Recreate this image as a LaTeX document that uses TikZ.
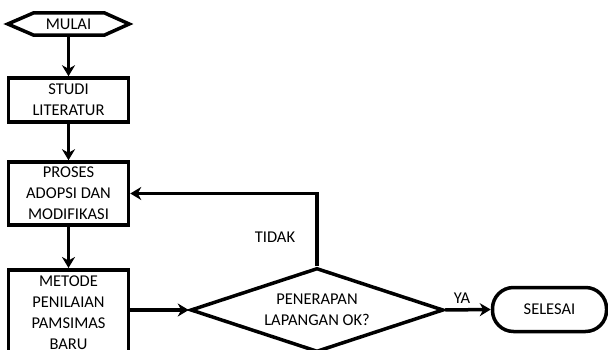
\documentclass[tikz,border=0pt]{standalone}
\usepackage{fontspec}
\setmainfont{Carlito}
\usetikzlibrary{arrows.meta,shapes.geometric,calc}
\begin{document}
\begin{tikzpicture}[x=1pt,y=-1pt,
  every node/.style={font=\fontsize{16.5}{21}\selectfont, inner sep=0pt, align=center},
  ln/.style={line width=3.5pt, line join=miter},
  arr/.style={ln, -{Stealth[length=11pt,width=13pt,inset=3.5pt]}},
  boxstep/.style={draw, line width=3.5pt, rectangle, minimum width=120pt},
  decis/.style={draw, line width=3.5pt, diamond, aspect=3, minimum width=253pt, minimum height=84pt, inner sep=0pt},
  term/.style={draw, line width=3.5pt, rectangle, rounded corners=21pt, minimum width=114pt, minimum height=44pt},
  lbl/.style={font=\fontsize{16.5}{21}\selectfont}
]
\useasboundingbox (0,0) rectangle (608,350);
\clip (0,0) rectangle (608,350);
\fill[white] (0,0) rectangle (608,350);

\node[minimum width=121pt, minimum height=22pt] (mulai) at (68.5,24) {MULAI};
\draw[ln] (mulai.west) -- ([xshift=26pt]mulai.north west) -- ([xshift=-25pt]mulai.north east)
  -- (mulai.east) -- ([xshift=-25pt]mulai.south east) -- ([xshift=26pt]mulai.south west) -- cycle;

\node[boxstep, minimum height=44pt] (studi) at (68.5,100) {STUDI\\LITERATUR};
\node[boxstep, minimum height=63pt] (proses) at (68.5,193.5) {PROSES\\ADOPSI DAN\\MODIFIKASI};
\node[boxstep, minimum height=86pt, anchor=north] (metode) at (68.5,268) {METODE\\PENILAIAN\\PAMSIMAS\\BARU};
\node[decis] (dia) at (317,310) {PENERAPAN\\LAPANGAN OK?};
\node[term] (sel) at (549.5,309.5) {SELESAI};

\draw[arr] (mulai.south) -- (studi.north);
\draw[arr] (studi.south) -- (proses.north);
\draw[arr] (proses.south) -- (metode.north);
\draw[arr] (metode.east |- dia.west) -- (dia.west);
\draw[arr] (dia.north) |- (proses.east);
\draw[arr] (dia.east) -- (sel.west);

\node[lbl] (tidak) at (275,237) {TIDAK};
\node[lbl] (ya) at (462,298.5) {YA};
\end{tikzpicture}
\end{document}
